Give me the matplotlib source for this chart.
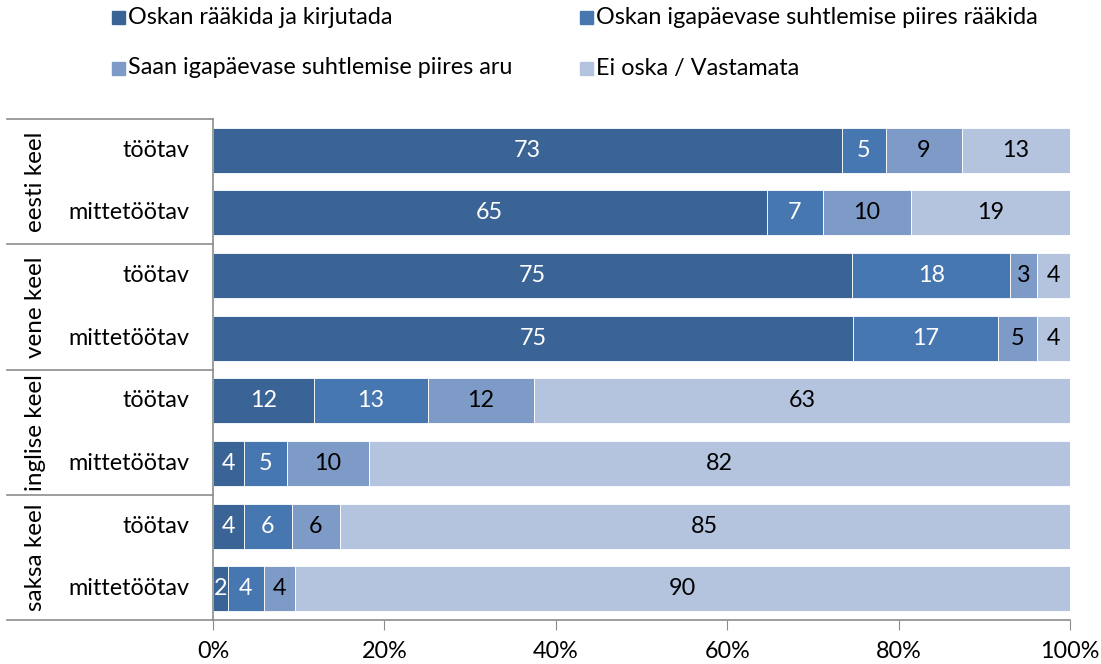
import numpy as np
import matplotlib
matplotlib.use("Agg")
import matplotlib.pyplot as plt
from matplotlib.patches import Rectangle

plt.rcParams['font.family'] = ['Lato', 'DejaVu Sans']

# data: one value per row, rows top to bottom
groups = ["eesti keel", "vene keel", "inglise keel", "saksa keel"]
rows = ["töötav", "mittetöötav"] * 4
series = ["Oskan rääkida ja kirjutada",
          "Oskan igapäevase suhtlemise piires rääkida",
          "Saan igapäevase suhtlemise piires aru",
          "Ei oska / Vastamata"]
s1 = [73.4, 64.6, 74.6, 74.7, 11.8, 3.6, 3.6, 1.7]
s2 = [5.1, 6.6, 18.4, 16.9, 13.3, 5.0, 5.6, 4.3]
s3 = [8.9, 10.2, 3.1, 4.6, 12.3, 9.6, 5.6, 3.6]
s4 = [12.6, 18.6, 3.9, 3.8, 62.6, 81.8, 85.2, 90.4]
xticks = [0, 20, 40, 60, 80, 100]

colors = ["#3B6496", "#4777B0", "#7E9BC8", "#B4C3DE"]
txtcol = ["white", "white", "black", "black"]
grey = "#8C8C8C"
fs = 16.8

fig = plt.figure(figsize=(11.01, 6.64), dpi=100)
W, H = 1101, 664
ax = fig.add_axes([213 / W, 1 - 620 / H, (1070 - 213) / W, (620 - 119) / H])

y = np.arange(len(rows))
left = np.zeros(len(rows))
for vals, c, tc in zip([s1, s2, s3, s4], colors, txtcol):
    vals = np.array(vals)
    ax.barh(y, vals, left=left, height=0.72, color=c, edgecolor="white", linewidth=0.6)
    for yi, l, v in zip(y, left, vals):
        ax.text(l + v / 2, yi, f"{v:.0f}", ha="center", va="center", color=tc, fontsize=fs)
    left += vals

ax.set_xlim(0, 100)
ax.set_ylim(len(rows) - 0.5, -0.5)
ax.set_xticks(xticks)
ax.set_xticklabels([f"{t}%" for t in xticks], fontsize=fs)
ax.tick_params(axis="x", length=7, color=grey, pad=8)
ax.set_yticks([])
for s in ["top", "right"]:
    ax.spines[s].set_visible(False)
for s in ["left", "bottom"]:
    ax.spines[s].set_color(grey)
    ax.spines[s].set_linewidth(1.2)

# category labels and group boxes on the left
tr = matplotlib.transforms.blended_transform_factory(ax.transAxes, ax.transData)
x0 = (7 - 213) / (1070 - 213)
for yi, r in zip(y, rows):
    ax.text(-24 / 857, yi, r, ha="right", va="center", fontsize=fs, transform=tr)
for gi, g in enumerate(groups):
    ax.text(x0 + 28 / 857, 2 * gi + 0.5, g, rotation=90, ha="center", va="center",
            fontsize=fs + 0.7, transform=tr)
for b in np.arange(0, len(rows) + 1, 2) - 0.5:
    ax.plot([x0, 0], [b, b], color=grey, lw=1.2, transform=tr, clip_on=False)

# legend
leg_pos = [(112, 17), (580, 17), (112, 68), (580, 68)]
for (lx, ly), name, c in zip(leg_pos, series, colors):
    fig.patches.append(Rectangle((lx / W, 1 - (ly + 7) / H), 13 / W, 13 / H,
                                 color=c, transform=fig.transFigure))
    fig.text((lx + 16) / W, 1 - ly / H, name, ha="left", va="center", fontsize=fs)

fig.savefig("out.png", dpi=100)
